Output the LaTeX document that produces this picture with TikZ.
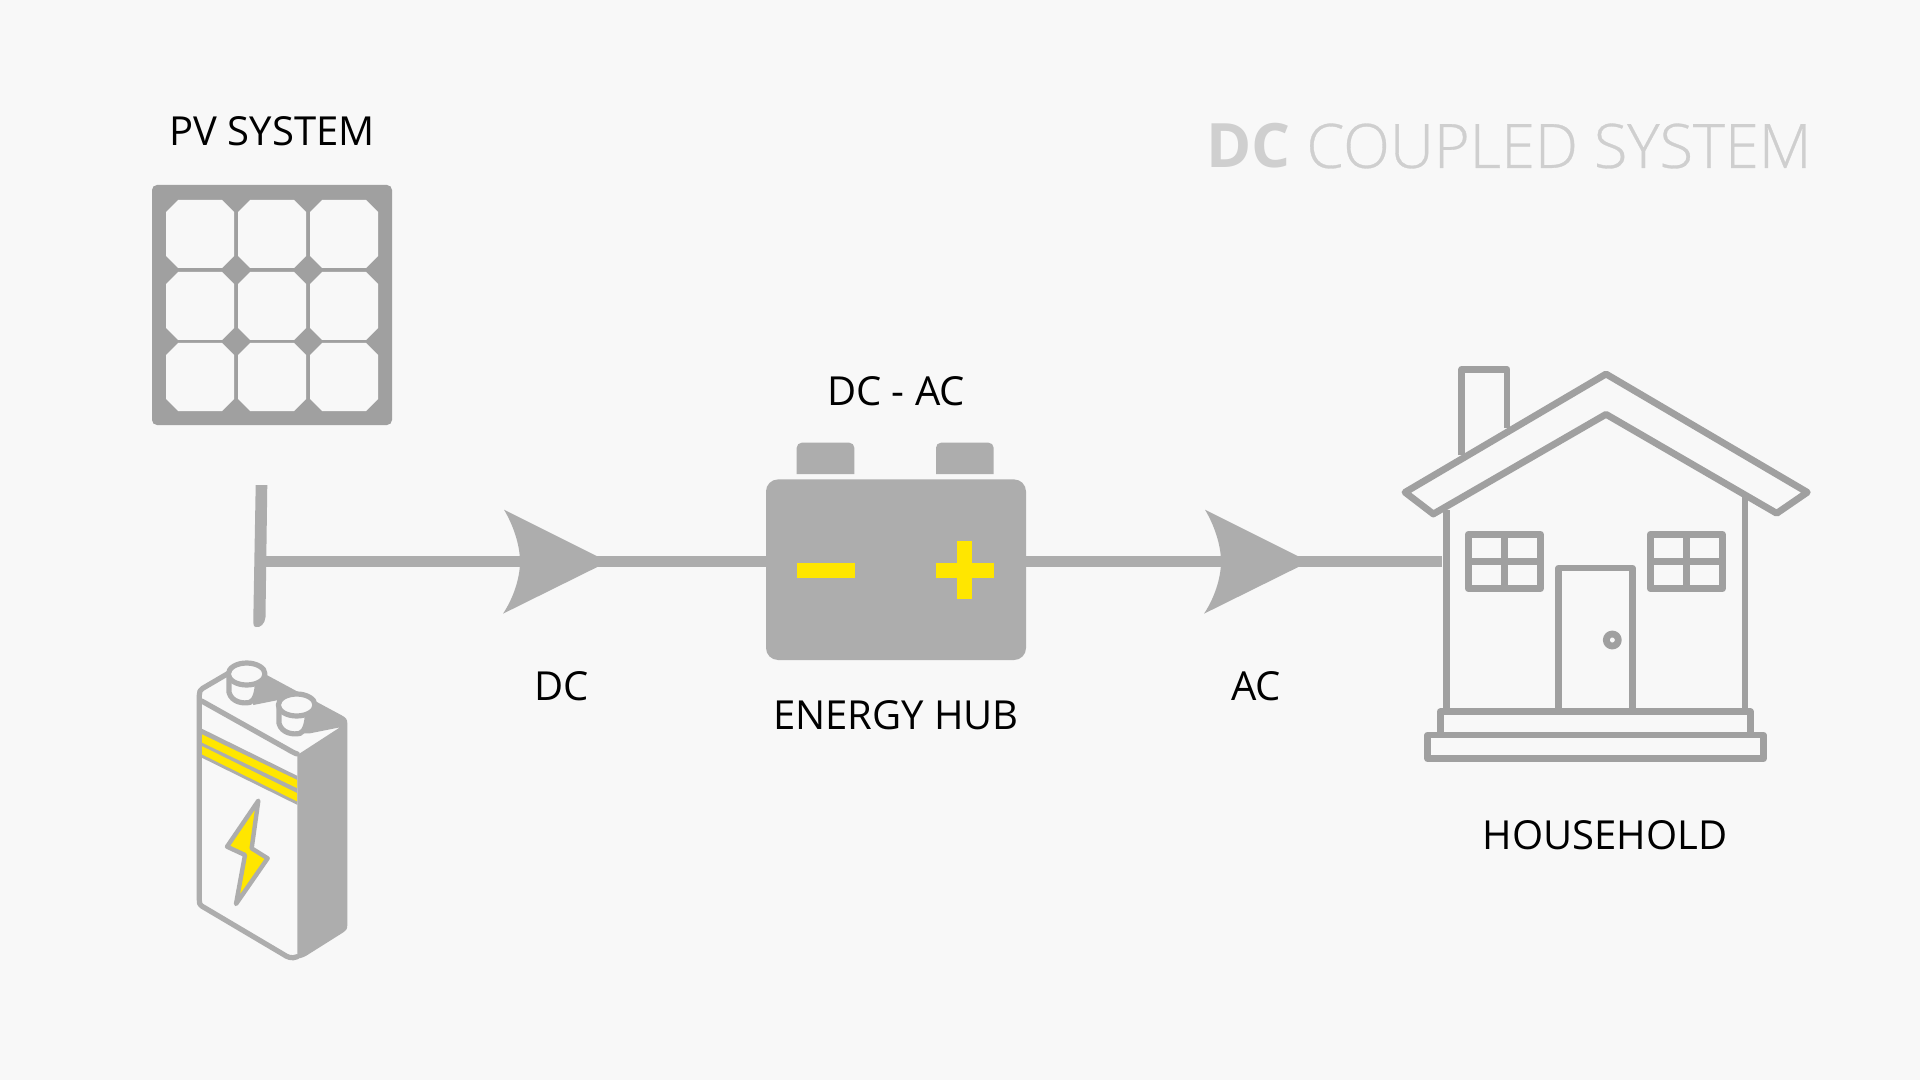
\documentclass[tikz,border=0pt]{standalone}
\usepackage{fontspec}
\setmainfont{Open Sans}
\newfontfamily\lightfont[FakeBold = 0.5]{Open Sans Light}

\definecolor{pagegray}{HTML}{F8F8F8}
\definecolor{panelgray}{HTML}{A0A0A0}
\definecolor{hubgray}{HTML}{ADADAD}
\definecolor{titlegray}{HTML}{CFCFCF}
\definecolor{signyellow}{HTML}{FFE600}

\tikzset{
	label text/.style = {font = \fontsize{20}{24}\selectfont, text = black, inner sep = 0pt},
	link/.style = {hubgray, line width = 5.65pt},
	house line/.style = {panelgray, line width = 3.4pt, line join = round},
	cell line/.style = {fill = pagegray},
	battery line/.style = {hubgray, line width = 2.6pt, line join = round, line cap = round},
	big arrow/.pic = {
		\fill [hubgray] (11, 0) -- (-93, -52) .. controls (-84, -37) and (-77, -17) .. (-77, 0)
			.. controls (-77, 17) and (-84, 37) .. (-94, 52) -- cycle;
	}
}

\begin{document}
\begin{tikzpicture}[x = 0.5pt, y = -0.5pt]

	% The page

	\fill [pagegray] (0, 0) rectangle (1920, 1080);
	\useasboundingbox (0, 0) rectangle (1920, 1080);

	% Title and labels

	\node [anchor = east, inner sep = 0pt, text = titlegray, font = \fontsize{30.6}{36}\selectfont] (title) at (1812, 146)
		{\textbf{DC} {\lightfont COUPLED SYSTEM}};
	\node [label text] (pvlabel) at (272, 131) {PV SYSTEM};
	\node [label text] (dclabel) at (562, 686) {DC};
	\node [label text] (inverterlabel) at (896, 391) {DC - AC};
	\node [label text] (hublabel) at (896, 715) {ENERGY HUB};
	\node [label text] (aclabel) at (1256, 686) {AC};
	\node [label text] (houselabel) at (1605, 835) {HOUSEHOLD};

	% The solar panel

	\node [fill = panelgray, rounded corners = 2.5pt, minimum size = 120pt, inner sep = 0pt] (panel) at (272, 305) {};

	\foreach \X in {166, 238, 310} {
		\foreach \Y in {200, 272, 343} {
			\fill [cell line] (\X + 12, \Y) -- (\X + 56, \Y) -- (\X + 68, \Y + 12) -- (\X + 68, \Y + 56)
				-- (\X + 56, \Y + 68) -- (\X + 12, \Y + 68) -- (\X, \Y + 56) -- (\X, \Y + 12) -- cycle;
		}
	}

	% The energy hub

	\node [fill = hubgray, rounded corners = 6pt, minimum width = 130pt, minimum height = 90.3pt, inner sep = 0pt] (hub) at (896, 569.7) {};

	\foreach \X in {796.7, 936} {
		\fill [hubgray] (\X, 474) [rounded corners = 2.5pt] -- (\X, 442.7) -- (\X + 57.6, 442.7) [sharp corners] -- (\X + 57.6, 474) -- cycle;
	}

	\begin{scope}[signyellow]

		\fill (796.7, 562.7) rectangle (855, 577.7);
		\fill (936, 562.7) rectangle (994, 577.7);
		\fill (957.3, 541.3) rectangle (972.3, 599.3);

	\end{scope}

	% Connectors and arrows

	\coordinate (tee) at (261, 561.7);
	\coordinate (dctip) at (597, 561.7);
	\coordinate (actip) at (1298, 561.7);
	\coordinate (houseend) at (1441.7, 561.7);

	\fill [hubgray] (255.7, 485) -- (267.3, 485) -- (265.5, 617) .. controls (265, 624) and (260, 628) .. (256, 627)
		.. controls (253.5, 627) and (253.3, 624) .. (253.3, 620) -- cycle;

	\draw [link] (tee) -- (tee -| hub.west);
	\draw [link] (hub.east |- houseend) -- (houseend);

	\pic at (dctip) {big arrow};
	\pic at (actip) {big arrow};

	% The house

	\begin{scope}[house line]

		\draw (1461.7, 455) -- (1461.7, 369.3) -- (1507, 369.3) -- (1507, 428);
		\draw (1606, 374) -- (1807.3, 492.3) -- (1776.7, 513.3) -- (1606, 414.3) -- (1433.3, 514) -- (1405, 492.3) -- cycle;
		\draw (1446.7, 510) -- (1446.7, 711.7);
		\draw (1745, 496.7) -- (1745, 711.7);

		\foreach \X in {1468.3, 1650.3} {
			\draw (\X, 534.3) rectangle (\X + 72, 588.7);
			\draw (\X + 36, 534.3) -- (\X + 36, 588.7);
			\draw (\X, 561.3) -- (\X + 72, 561.3);
		}

		\draw (1558.7, 711.7) -- (1558.7, 568) -- (1632.3, 568) -- (1632.3, 711.7);
		\draw (1612.3, 640) circle (6);
		\draw (1440.3, 735) -- (1440.3, 711.7) -- (1750.3, 711.7) -- (1750.3, 735);
		\draw (1427.7, 735) rectangle (1763.3, 758.7);

	\end{scope}

	% The battery, in units of its own

	\begin{scope}[shift = {(130, 640)}, scale = 1 / 3]

		% Yellow bands

		\begin{scope}
			\clip (208, 155) -- (502, 300) -- (502, 955) -- (208, 790) -- cycle;
			\draw [hubgray, line width = 13pt] (190, 297) -- (520, 460);
			\draw [signyellow, line width = 3.7pt] (190, 283) -- (520, 441);
			\draw [signyellow, line width = 3.7pt] (190, 318) -- (520, 481);
		\end{scope}

		% Shaded side and top

		\fill [hubgray] (345, 70) -- (635, 226) .. controls (648, 233) and (652, 238) .. (652, 250) -- (652, 855)
			.. controls (652, 868) and (648, 872) .. (640, 877) -- (540, 940) .. controls (525, 950) and (515, 955) .. (502, 955)
			-- (502, 345) -- (630, 262) -- (540, 280) -- (490, 280) -- (445, 180) -- (370, 195) -- cycle;

		% Outlines

		\draw [battery line] (502, 950) .. controls (485, 958) and (470, 950) .. (460, 943) -- (215, 798)
			.. controls (208, 793) and (208, 790) .. (208, 780) -- (208, 165) .. controls (208, 155) and (210, 150) .. (218, 145) -- (300, 97);
		\draw [battery line] (215, 183) -- (470, 326) .. controls (485, 335) and (495, 340) .. (502, 342);

		% Terminals

		\foreach \X / \Y in {350 / 102, 500 / 195} {
			\draw [battery line, fill = pagegray] (\X - 53, \Y) -- (\X - 53, \Y + 55) .. controls (\X - 45, \Y + 85) and (\X - 10, \Y + 90) .. (\X + 10, \Y + 85)
				.. controls (\X + 25, \Y + 80) and (\X + 32, \Y + 50) .. (\X + 32, \Y + 28);
			\draw [battery line, fill = pagegray] (\X, \Y) ellipse (55 and 33);
		}

		% The lightning sign

		\draw [battery line, line width = 2.2pt, fill = signyellow] (385, 482) -- (291, 620) -- (345, 645) -- (318, 792) -- (413, 655) -- (365, 625) -- cycle;

	\end{scope}

\end{tikzpicture}
\end{document}
